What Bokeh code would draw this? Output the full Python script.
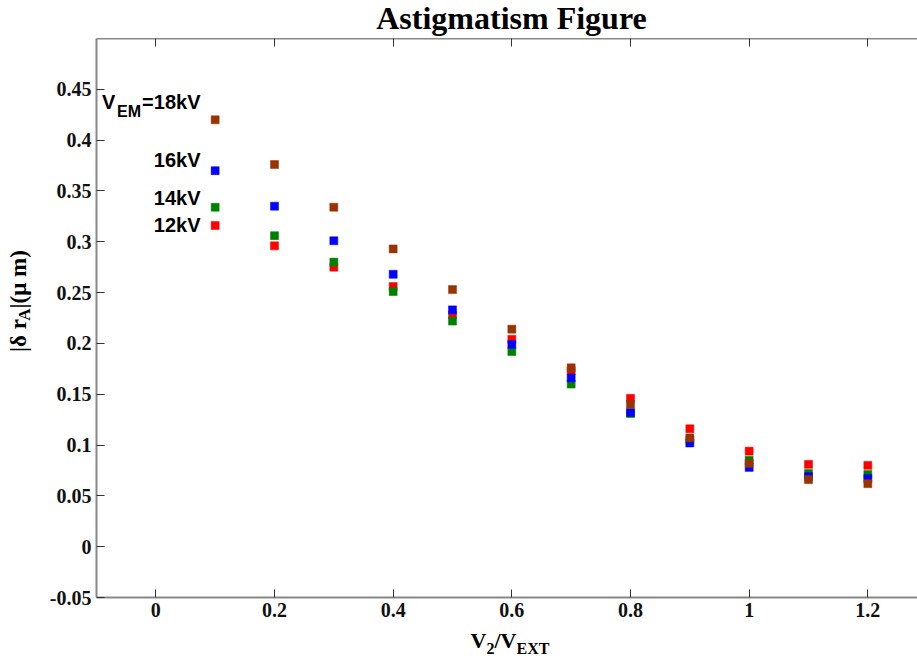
import math
from bokeh.plotting import figure
from bokeh.models import Range1d, LinearAxis, FixedTicker, Label
from bokeh.layouts import column, row
from bokeh.embed import file_html
from bokeh.resources import INLINE

# ---- data ----
v_ratio = [0.1, 0.2, 0.3, 0.4, 0.5, 0.6, 0.7, 0.8, 0.9, 1.0, 1.1, 1.2]
dr_12kV = [0.316, 0.296, 0.275, 0.256, 0.228, 0.204, 0.173, 0.146, 0.116, 0.094, 0.081, 0.080]
dr_14kV = [0.334, 0.306, 0.280, 0.251, 0.222, 0.192, 0.160, 0.131, 0.105, 0.085, 0.072, 0.071]
dr_16kV = [0.370, 0.335, 0.301, 0.268, 0.233, 0.199, 0.166, 0.132, 0.102, 0.078, 0.069, 0.067]
dr_18kV = [0.420, 0.376, 0.334, 0.293, 0.253, 0.214, 0.176, 0.140, 0.107, 0.082, 0.066, 0.062]

series = [
    ("12kV", dr_12kV, "#ff0000"),
    ("14kV", dr_14kV, "#008000"),
    ("16kV", dr_16kV, "#0000ff"),
    ("18kV", dr_18kV, "#993300"),
]

x_ticks = [0, 0.2, 0.4, 0.6, 0.8, 1.0, 1.2]
x_tick_labels = ["0", "0.2", "0.4", "0.6", "0.8", "1", "1.2"]
y_ticks = [-0.05, 0, 0.05, 0.1, 0.15, 0.2, 0.25, 0.3, 0.35, 0.4, 0.45]
y_tick_labels = ["-0.05", "0", "0.05", "0.1", "0.15", "0.2", "0.25", "0.3", "0.35", "0.4", "0.45"]

title_text = "Astigmatism Figure"

# ---- layout geometry (pixels) ----
W, H = 917, 666
TITLE_H = 38          # band above the frame
XLAB_H = 38           # band below the tick labels
YLAB_W = 40           # band left of the tick labels
FL, FR, FT, FB = 96, 917, 38, 597
X0, X1 = -0.1, 1.2837
Y0, Y1 = -0.05, 0.5
BL = 8                # label baseline correction (px)

SERIF = "Liberation Serif"
SANS = "Liberation Sans"

MAIN_W = W - YLAB_W
MAIN_H = H - TITLE_H - XLAB_H

p = figure(width=MAIN_W, height=MAIN_H, output_backend="svg", toolbar_location=None,
           x_range=Range1d(X0, X1), y_range=Range1d(Y0, Y1),
           min_border_left=FL - YLAB_W, min_border_right=W - FR,
           min_border_top=FT - TITLE_H, min_border_bottom=(H - XLAB_H) - FB)
p.outline_line_color = None
p.grid.visible = False
p.background_fill_color = "white"
p.border_fill_color = "white"


def style_axis(ax, ticks, labels, show_labels=True):
    ax.ticker = FixedTicker(ticks=ticks)
    ax.major_label_overrides = {t: (l if show_labels else "") for t, l in zip(ticks, labels)}
    ax.minor_tick_line_color = None
    ax.major_tick_in = 8
    ax.major_tick_out = 0
    ax.major_tick_line_color = "#333333"
    ax.major_tick_line_width = 1
    ax.axis_line_color = "#888888"
    ax.axis_line_width = 2
    ax.major_label_text_font = SERIF
    ax.major_label_text_font_style = "bold"
    ax.major_label_text_color = "#111111"
    ax.major_label_text_font_size = "20px" if show_labels else "0px"
    ax.major_label_standoff = 5 if show_labels else 0
    ax.axis_label = None


style_axis(p.xaxis[0], x_ticks, x_tick_labels)
style_axis(p.yaxis[0], y_ticks, y_tick_labels)
top_axis = LinearAxis()
style_axis(top_axis, x_ticks, x_tick_labels, show_labels=False)
p.add_layout(top_axis, "above")

for name, vals, color in series:
    p.scatter(v_ratio, vals, marker="square", size=8, fill_color=color,
              line_color=color, line_width=0.5)


def dx(px):
    return X0 + (px - FL) / (FR - FL) * (X1 - X0)


def dy(py):
    return Y1 - (py - BL - FT) / (FB - FT) * (Y1 - Y0)


def add_text(fig, text, x, y, size, font=SERIF, align="left", angle=0.0, style="bold"):
    fig.add_layout(Label(x=x, y=y, text=text, text_font=font,
                         text_font_size=f"{size}px", text_font_style=style,
                         text_align=align, text_baseline="alphabetic",
                         angle=angle, text_color="black"))


# series labels inside the frame
add_text(p, "V", dx(101.5), dy(109), 20, font=SANS)
add_text(p, "EM", dx(116.5), dy(119), 16, font=SANS)
add_text(p, "=18kV", dx(200), dy(109), 20, font=SANS, align="right")
add_text(p, "16kV", dx(200), dy(167), 20, font=SANS, align="right")
add_text(p, "14kV", dx(200), dy(205), 20, font=SANS, align="right")
add_text(p, "12kV", dx(200), dy(232), 20, font=SANS, align="right")


def text_band(w, h):
    f = figure(width=w, height=h, output_backend="svg", toolbar_location=None,
               x_range=Range1d(0, w), y_range=Range1d(0, h),
               x_axis_type=None, y_axis_type=None, min_border=0)
    f.outline_line_color = None
    f.grid.visible = False
    f.background_fill_color = "white"
    f.border_fill_color = "white"
    return f


# title band (top)
title_fig = text_band(W, TITLE_H)
add_text(title_fig, title_text, 511, TITLE_H - (25 - BL), 32, align="center")

# x-label band (bottom)
xlab_fig = text_band(W, XLAB_H)
y_top = H - XLAB_H
add_text(xlab_fig, "V", 470, XLAB_H - (648 - BL - y_top), 22)
add_text(xlab_fig, "2", 486, XLAB_H - (656 - BL - y_top), 16)
add_text(xlab_fig, "/V", 494, XLAB_H - (648 - BL - y_top), 22)
add_text(xlab_fig, "EXT", 516, XLAB_H - (656 - BL - y_top), 16)

# y-label band (left), rotated text
ylab_fig = text_band(YLAB_W, MAIN_H)
add_text(ylab_fig, "|\u03b4 r", 26 - BL, MAIN_H - (369 - TITLE_H), 23, angle=math.pi / 2)
add_text(ylab_fig, "A", 32 - BL, MAIN_H - (336 - TITLE_H), 17, angle=math.pi / 2)
add_text(ylab_fig, "|(\u03bc m)", 26 - BL, MAIN_H - (323 - TITLE_H), 23, angle=math.pi / 2)

layout = column(title_fig, row(ylab_fig, p, spacing=0), xlab_fig, spacing=0)

open("out.html", "w").write(file_html(layout, INLINE))
